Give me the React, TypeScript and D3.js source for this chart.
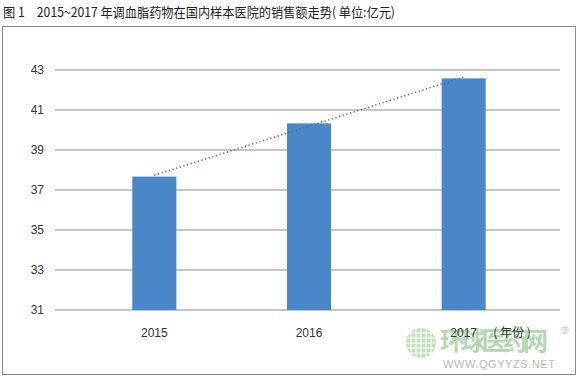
import React from "react";
import * as d3 from "d3";

const years = ["2015", "2016", "2017"];
const sales = [37.67, 40.33, 42.58];
const yTicks = [31, 33, 35, 37, 39, 41, 43];
const titleText = "图 1　2015~2017 年调血脂药物在国内样本医院的销售额走势( 单位:亿元)";
const xUnit = "( 年份 )";

export default function App() {
  const W = 578, H = 379;
  const y = d3.scaleLinear().domain([31, 43]).range([310, 70]);
  const x = d3.scaleBand<string>().domain(years).range([77, 541]).paddingInner(0.715).paddingOuter(0.3575);
  const gridX0 = 55, gridX1 = 560;

  // linear trend line (least squares)
  const n = sales.length;
  const idx = sales.map((_, i) => i);
  const mx = d3.mean(idx)!;
  const my = d3.mean(sales)!;
  const slope = d3.sum(idx.map((i) => (i - mx) * (sales[i] - my))) / d3.sum(idx.map((i) => (i - mx) ** 2));
  const fit = (i: number) => my + slope * (i - mx);
  const cx = (i: number) => x(years[i])! + x.bandwidth() / 2;
  const trend = d3.line<number>().x((i) => cx(i)).y((i) => y(fit(i)))([0, n - 1]);

  const font = "'Noto Sans CJK SC', 'Noto Sans', sans-serif";
  const sans = "'Liberation Sans', Arial, sans-serif";
  const globeR = 15;
  const gx = 421, gy = 343;

  return (
    <svg width={W} height={H} style={{ position: "absolute", left: 0, top: 0, background: "#fff" }}>
      <text x={3} y={17} fontFamily={font} fontSize={13} fill="#222" textLength={392} lengthAdjust="spacingAndGlyphs">{titleText}</text>
      <rect x={2.5} y={26.5} width={573} height={348} fill="none" stroke="#8a8a8a" strokeWidth={1} />
      {yTicks.map((t) => (
        <g key={t}>
          <line x1={gridX0} x2={gridX1} y1={y(t)} y2={y(t)} stroke="#8c8c8c" strokeWidth={1} />
          <text x={44} y={y(t)} dy="0.35em" textAnchor="end" fontFamily={sans} fontSize={12} fill="#333">{t}</text>
        </g>
      ))}
      {years.map((yr, i) => (
        <rect key={yr} x={x(yr)} y={y(sales[i])} width={x.bandwidth()} height={y(31) - y(sales[i])} fill="#4a87c8" />
      ))}
      <path d={trend ?? ""} fill="none" stroke="#4a6e94" strokeWidth={1.6} strokeDasharray="1.2 2.6" />
      {/* watermark */}
      <g opacity={0.6}>
        <circle cx={gx} cy={gy} r={globeR} fill="#9ccb94" />
        {[-10, -5, 0, 5, 10].map((d) => (
          <line key={"h" + d} x1={gx - Math.sqrt(globeR * globeR - d * d)} x2={gx + Math.sqrt(globeR * globeR - d * d)} y1={gy + d} y2={gy + d} stroke="#fff" strokeWidth={1} />
        ))}
        {[-10, -5, 0, 5, 10].map((d) => (
          <line key={"v" + d} y1={gy - Math.sqrt(globeR * globeR - d * d)} y2={gy + Math.sqrt(globeR * globeR - d * d)} x1={gx + d} x2={gx + d} stroke="#fff" strokeWidth={1} />
        ))}
        <text x={440} y={350} fontFamily={font} fontSize={25} fontWeight="bold" fill="#7fbf7f" textLength={108}>环球医药网</text>
        <text x={443} y={368} fontFamily={sans} fontSize={11} fill="#8a8a8a" textLength={112}>WWW.QGYYZS.NET</text>
        <text x={561} y={334} fontFamily={sans} fontSize={11} fill="#999">®</text>
      </g>
      {years.map((yr, i) => (
        <text key={yr} x={cx(i)} y={333} dy="0.35em" textAnchor="middle" fontFamily={sans} fontSize={12} fill="#333">{yr}</text>
      ))}
      <text x={512} y={333} dy="0.35em" textAnchor="middle" fontFamily={font} fontSize={12} fill="#333">{xUnit}</text>
    </svg>
  );
}
